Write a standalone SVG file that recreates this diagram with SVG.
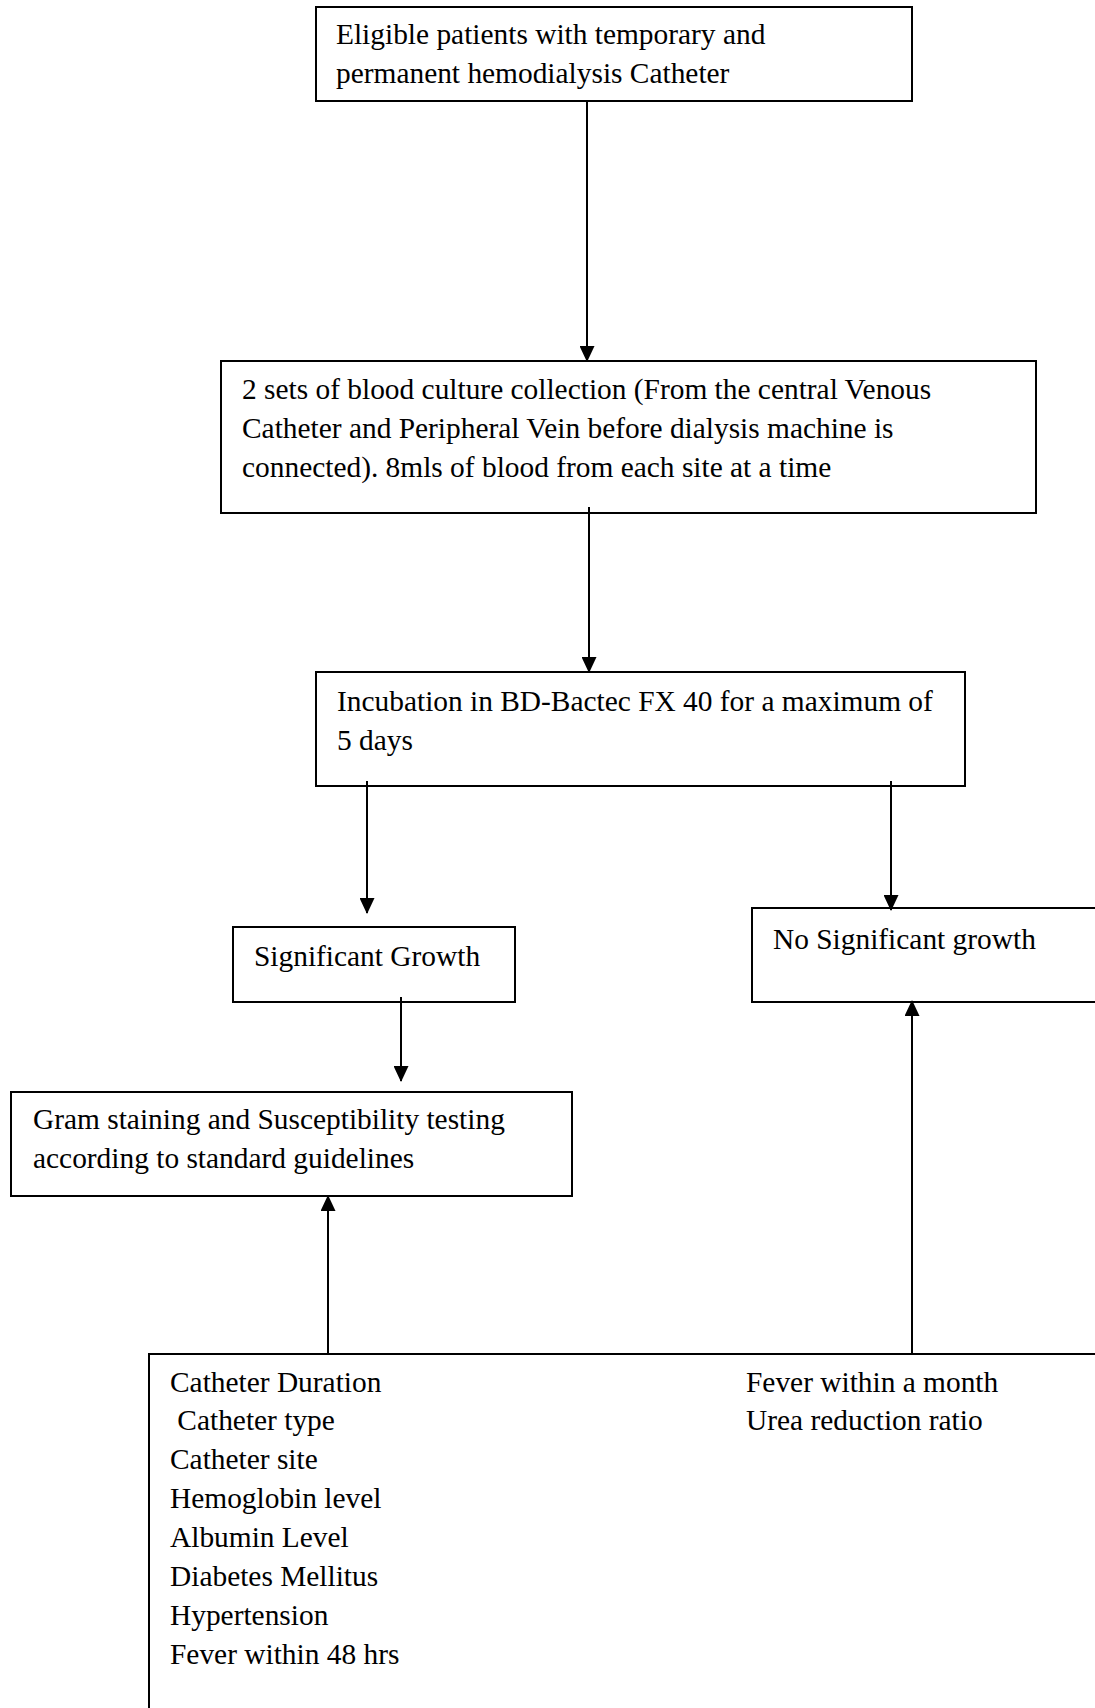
<svg xmlns="http://www.w3.org/2000/svg" width="1095" height="1708" viewBox="0 0 1095 1708">
<style>
.box{fill:none;stroke:#000;stroke-width:2}
.con{stroke:#000;stroke-width:2;fill:none}
text{font-family:"Liberation Serif","Times New Roman",serif;font-size:29.4px;fill:#000}
</style>
<defs>
<marker id="ah" viewBox="0 0 16 15" refX="15" refY="7.5" markerWidth="16" markerHeight="15" markerUnits="userSpaceOnUse" orient="auto">
<path d="M0,0 L16,7.5 L0,15 Z" fill="#000"/>
</marker>
</defs>
<rect x="0" y="0" width="1095" height="1708" fill="#fff"/>
<g id="n1">
<rect class="box" x="316" y="7" width="596" height="94"/>
<text x="336" y="44">Eligible patients with temporary and</text>
<text x="336" y="83">permanent hemodialysis Catheter</text>
</g>
<g id="n2">
<rect class="box" x="221" y="361" width="815" height="152"/>
<text x="242" y="399">2 sets of blood culture collection (From the central Venous</text>
<text x="242" y="438">Catheter and Peripheral Vein before dialysis machine is</text>
<text x="242" y="477">connected). 8mls of blood from each site at a time</text>
</g>
<g id="n3">
<rect class="box" x="316" y="672" width="649" height="114"/>
<text x="337" y="711">Incubation in BD-Bactec FX 40 for a maximum of</text>
<text x="337" y="750">5 days</text>
</g>
<g id="n4">
<rect class="box" x="233" y="927" width="282" height="75"/>
<text x="254" y="966">Significant Growth</text>
</g>
<g id="n5">
<polyline class="box" points="1096,908 752,908 752,1002 1096,1002"/>
<text x="773" y="949">No Significant growth</text>
</g>
<g id="n6">
<rect class="box" x="11" y="1092" width="561" height="104"/>
<text x="33" y="1129">Gram staining and Susceptibility testing</text>
<text x="33" y="1168">according to standard guidelines</text>
</g>
<g id="n7">
<polyline class="box" points="1096,1354 149,1354 149,1709"/>
<text x="170" y="1392">Catheter Duration</text>
<text x="170" y="1430" xml:space="preserve"> Catheter type</text>
<text x="170" y="1469">Catheter site</text>
<text x="170" y="1508">Hemoglobin level</text>
<text x="170" y="1547">Albumin Level</text>
<text x="170" y="1586">Diabetes Mellitus</text>
<text x="170" y="1625">Hypertension</text>
<text x="170" y="1664">Fever within 48 hrs</text>
<text x="746" y="1392">Fever within a month</text>
<text x="746" y="1430">Urea reduction ratio</text>
</g>
<g id="connectors">
<line class="con" x1="587" y1="101" x2="587" y2="361" marker-end="url(#ah)"/>
<line class="con" x1="589" y1="507" x2="589" y2="672" marker-end="url(#ah)"/>
<line class="con" x1="367" y1="781" x2="367" y2="913" marker-end="url(#ah)"/>
<line class="con" x1="891" y1="781" x2="891" y2="910" marker-end="url(#ah)"/>
<line class="con" x1="401" y1="997" x2="401" y2="1081" marker-end="url(#ah)"/>
<line class="con" x1="328" y1="1354" x2="328" y2="1196" marker-end="url(#ah)"/>
<line class="con" x1="912" y1="1354" x2="912" y2="1001" marker-end="url(#ah)"/>
</g>
</svg>
